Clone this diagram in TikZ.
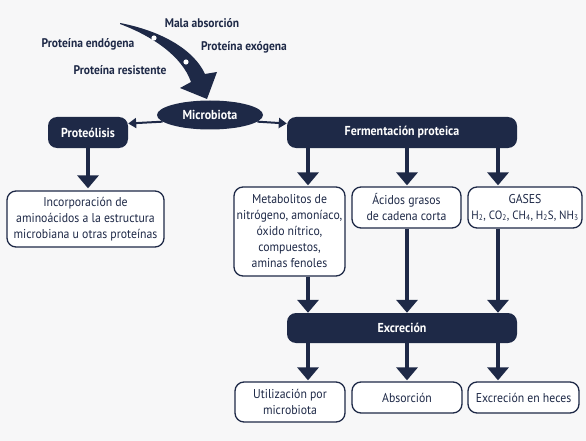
\documentclass[tikz,border=0pt]{standalone}
\usepackage{fontspec}
\setmainfont{PT Sans}[FakeStretch=0.92]
\usetikzlibrary{arrows.meta,shapes.geometric}
\definecolor{navy}{HTML}{1E2947}
\definecolor{bg}{HTML}{F7F7F8}
\tikzset{
  darkbox/.style={fill=navy, rounded corners=9pt, text=white, inner sep=0pt,
    font=\bfseries\fontsize{13}{15}\selectfont},
  lightbox/.style={draw=navy, line width=1.3pt, fill=white, rounded corners=9pt,
    text=navy, align=center, inner sep=0pt, font=\fontsize{12.8}{16}\selectfont},
  biglab/.style={text=navy, font=\bfseries\fontsize{12.5}{14}\selectfont, inner sep=0pt},
  thick arrow/.style={draw=navy, line width=4pt, -{Triangle[width=21pt,length=13pt]}},
  thin arrow/.style={draw=navy, line width=2pt, -{Triangle[width=10pt,length=8pt]}}
}
\begin{document}
\begin{tikzpicture}[x=1pt,y=-1pt]
\fill[bg] (0,0) rectangle (586,441);
\useasboundingbox (0,0) rectangle (586,441);

% curved input arrow
\fill[navy] (120,23) .. controls (162,31) and (194,50) .. (205,74)
  -- (217,72) -- (207,99) -- (180,88) -- (191,82)
  .. controls (182,56) and (152,36) .. (120,24) -- cycle;
\fill[white] (154,38) circle (2.6);
\fill[white] (186,62) circle (2.6);

\node[biglab] (mala) at (202,23) {Mala absorción};
\node[biglab] (endo) at (88,44) {Proteína endógena};
\node[biglab] (exo) at (244,47) {Proteína exógena};
\node[biglab] (resis) at (120,70) {Proteína resistente};

% microbiota
\node[ellipse, fill=navy, minimum width=106pt, minimum height=29pt, inner sep=0pt,
  text=white, font=\bfseries\fontsize{13}{15}\selectfont] (micro) at (210,115) {Microbiota};

% dark boxes
\node[darkbox, minimum width=80pt, minimum height=31pt] (proteo) at (88,132.5) {Proteólisis};
\node[darkbox, minimum width=230pt, minimum height=31pt] (ferm) at (402,132.5) {Fermentación proteica};
\node[darkbox, minimum width=230pt, minimum height=30pt] (excr) at (402,328) {Excreción};

% light boxes
\node[lightbox, minimum width=157pt, minimum height=56pt] (incorp) at (85.5,219)
  {Incorporación de\\aminoácidos a la estructura\\microbiana u otras proteínas};
\node[lightbox, minimum width=111pt, minimum height=89pt] (meta) at (289.5,231.5)
  {Metabolitos de\\nitrógeno, amoníaco,\\óxido nítrico,\\compuestos,\\aminas fenoles};
\node[lightbox, minimum width=109pt, minimum height=41pt] (acid) at (406.5,207.5)
  {Ácidos grasos\\de cadena corta};
\node[lightbox, minimum width=114pt, minimum height=41pt] (gas) at (525,207.5)
  {GASES\\{\fontsize{12}{16}\selectfont H\textsubscript{2}, CO\textsubscript{2}, CH\textsubscript{4}, H\textsubscript{2}S, NH\textsubscript{3}}};
\node[lightbox, minimum width=110pt, minimum height=40pt] (util) at (290,402)
  {Utilización por\\microbiota};
\node[lightbox, minimum width=110pt, minimum height=31pt] (abs) at (407,397.5) {Absorción};
\node[lightbox, minimum width=111pt, minimum height=31pt] (heces) at (523.5,397.5) {Excreción en heces};

% column guides
\coordinate (c1) at (308,0);
\coordinate (c2) at (407,0);
\coordinate (c3) at (498,0);
\coordinate (c0) at (88,0);

% thin arrows from microbiota
\draw[thin arrow] (micro.188) -- ([yshift=9pt]proteo.east);
\draw[thin arrow] (micro.-8) -- ([yshift=9pt]ferm.west);

% thick arrows
\draw[thick arrow, shorten >=2pt] (proteo.south -| c0) -- (incorp.north -| c0);
\draw[thick arrow, shorten >=1pt] (ferm.south -| c1) -- (meta.north -| c1);
\draw[thick arrow, shorten >=1pt] (ferm.south -| c2) -- (acid.north -| c2);
\draw[thick arrow, shorten >=1pt] (ferm.south -| c3) -- (gas.north -| c3);
\draw[thick arrow] (meta.south -| c1) -- (excr.north -| c1);
\draw[thick arrow] (acid.south -| c2) -- (excr.north -| c2);
\draw[thick arrow] (gas.south -| c3) -- (excr.north -| c3);
\draw[thick arrow, shorten >=1pt] (excr.south -| c1) -- (util.north -| c1);
\draw[thick arrow, shorten >=1pt] (excr.south -| c2) -- (abs.north -| c2);
\draw[thick arrow, shorten >=1pt] (excr.south -| c3) -- (heces.north -| c3);
\end{tikzpicture}
\end{document}
